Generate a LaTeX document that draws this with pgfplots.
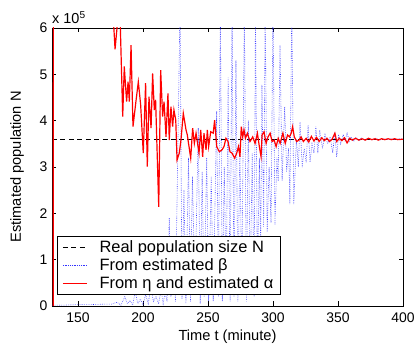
\documentclass[border=0pt]{standalone}
\usepackage{fontspec}
\setmainfont{Liberation Sans}
\usepackage{pgfplots}
\pgfplotsset{compat=1.18}
\begin{document}
\begin{tikzpicture}[font=\fontsize{14}{16.8}\selectfont]
\begin{axis}[
  scale only axis, width=351bp, height=278bp,
  xmin=130, xmax=400, ymin=0, ymax=6,
  xtick={150,200,250,300,350,400}, ytick={0,1,2,3,4,5,6},
  tick align=inside, major tick length=4.5bp,
  axis line style={line width=0.6pt}, every tick/.style={line width=0.5pt, black},
  /pgf/number format/assume math mode=true,
  tick label style={font=\fontsize{14}{16.8}\selectfont},
  xticklabel style={yshift=-3pt},
  yticklabel style={xshift=-1pt},
  label style={font=\fontsize{14.7}{17.5}\selectfont},
  xlabel={Time t (minute)}, ylabel={Estimated population N},
  xlabel style={yshift=-1pt}, ylabel style={yshift=9bp},
  legend style={at={(rel axis cs:0.014,0.04)}, anchor=south west, draw=black, line width=0.8pt,
    fill=white, font=\fontsize{16.5}{19.5}\selectfont, inner xsep=5pt, inner ysep=2pt, row sep=1pt},
  legend cell align=left,
  legend image code/.code={\draw[#1] (0.05cm,0cm) -- (0.9cm,0cm); \path (1.25cm,0cm);},
]
\addplot[black, line width=0.9pt, dash pattern=on 5pt off 3.5pt] coordinates {(130,3.6) (400,3.6)};
\addlegendentry{Real population size N}
\addplot[blue!80, line width=0.6pt, dash pattern=on 0.6pt off 1.2pt] coordinates {
(130,0.02) (140,0.02) (150,0.03) (160,0.03) (170,0.04) (176,0.04) (180,0.08) (183,0.02)
(186,0.2) (188,0.05) (190,0.12) (192,0.02) (194,0.3) (196,0.05) (198,0.15) (200,0.03)
(202,0.25) (204,0.05) (206,0.4) (208,0.1) (210,0.2) (212,0.05) (214,0.35) (215.5,0.05)
(217,0.3) (218.5,0.1) (220.2,1.9) (221.5,0.2) (223,0.8) (225,0.1) (228.5,6.5) (230,0.15)
(231.5,2.5) (233,0.05) (235,3.2) (236.5,0.1) (238,2.8) (240,0.3) (242.5,3.84) (244,0.05)
(245.5,2.9) (247,0.2) (249,3.2) (250.5,0.1) (252.5,2.8) (254,0.1) (256.7,4.2) (258,0.2)
(259.5,6.5) (261,0.1) (262.5,3.0) (264,0.3) (265.5,4.93) (267,0.1) (268.5,6.5) (270,0.2)
(271.5,5.3) (273,0.1) (274.5,3.5) (276,0.4) (278,6.5) (279.5,0.1) (281,4.0) (282.5,0.5)
(284,3.3) (285.5,0.2) (286.5,6.5) (288,0.5) (289.5,3.2) (290.5,1.2) (291.5,4.77) (292.8,1.7)
(294,6.5) (295.5,1.6) (297,3.0) (298.5,1.8) (300,6.5) (301.5,1.75) (303,3.2) (304,2.7)
(305.4,5.63) (307,2.7) (309,4.3) (310.5,2.9) (312,3.4) (313,2.2) (314.4,6.5) (316,2.2)
(318,3.6) (319.5,3.0) (320.8,3.97) (322.5,3.0) (324,3.4) (325.5,3.1) (327,3.9) (328.5,3.1)
(330,3.5) (331.5,3.3) (333,3.87) (334.5,3.3) (336,3.8) (338,3.4) (340,3.7) (342,3.5)
(344,3.65) (346,3.3) (347.5,3.75) (349,3.22) (350.5,3.7) (352,3.5) (354,3.7) (355.5,3.55)
(357,3.75) (358.5,3.55) (360,3.65) (362,3.55) (364,3.64) (366,3.57) (368,3.63) (370,3.58)
(373,3.62) (376,3.58) (379,3.62) (382,3.58) (385,3.61) (388,3.59) (391,3.61) (394,3.59)
(397,3.61) (400,3.6)};
\addlegendentry{From estimated β}
\addplot[red, line width=1.2pt] coordinates {
(131.0,-0.2) (131.3,40) (176.5,40) (177.2,6.2) (178.5,5.54) (181.0,6.3) (182.5,6.1)
(184.4,4.09) (185.6,5.17) (187.4,4.41) (188.5,4.84) (189.5,4.41) (190.8,5.63) (192.3,3.87)
(194.5,4.4) (196.4,4.84) (198.2,4.34) (200.2,3.30) (202.0,4.81) (203.3,3.01) (204.6,4.52)
(206.2,3.84) (207.4,5.02) (208.7,4.23) (209.7,4.45) (212.1,2.14) (213.6,5.09) (215.1,4.09)
(216.2,4.41) (217.7,3.65) (219.2,4.59) (220.2,3.58) (221.5,4.30) (222.8,3.87) (223.8,4.23)
(225.2,4.01) (226.2,3.15) (227.9,3.30) (229.2,3.58) (231.0,4.16) (233.1,3.80) (234.1,3.69)
(236.7,3.19) (238.2,3.84) (239.5,3.51) (240.8,3.73) (243.1,3.30) (244.4,3.80) (245.9,3.22)
(246.9,3.73) (248.5,3.37) (249.5,3.80) (250.5,3.44) (252.1,3.76) (254.0,3.73) (255.1,4.01)
(256.7,3.44) (258.7,3.33) (260.8,3.37) (262.3,3.44) (263.8,3.62) (265.4,3.55) (266.9,3.33)
(268.5,3.30) (270.5,3.19) (272.1,3.30) (273.4,3.44) (274.6,3.22) (275.6,3.87) (276.7,3.65)
(277.7,3.80) (278.8,3.62) (280.3,3.73) (282.3,3.55) (284.4,3.65) (286.2,3.51) (288.0,3.73)
(289.5,3.44) (290.8,3.22) (291.6,3.69) (293.1,3.76) (294.7,3.51) (296.2,3.65) (297.8,3.73)
(299.3,3.55) (300.9,3.58) (302.4,3.44) (304.0,3.62) (305.5,3.51) (307.6,3.73) (309.4,3.51)
(311.2,3.69) (312.7,3.65) (314.0,3.73) (315.1,3.87) (316.4,3.65) (318.2,3.55) (320.0,3.58)
(321.6,3.65) (323.4,3.55) (325.5,3.62) (327.5,3.54) (329.5,3.66) (331.5,3.56) (333.5,3.64)
(335.5,3.55) (337.5,3.63) (339.5,3.57) (341.5,3.62) (343.5,3.55) (345.5,3.60) (347.6,3.73)
(349.0,3.55) (351.0,3.62) (353.0,3.57) (355.0,3.63) (357.0,3.52) (359.0,3.62) (361.0,3.58)
(363.5,3.62) (366.0,3.58) (368.5,3.61) (371.0,3.58) (373.5,3.62) (376.0,3.59) (378.5,3.61)
(381.0,3.58) (383.5,3.61) (386.0,3.59) (388.5,3.61) (391.0,3.59) (393.5,3.61) (396.0,3.59)
(400.0,3.60)};
\addlegendentry{From η and estimated α}
\coordinate (ll) at (rel axis cs:0,0);
\coordinate (ur) at (rel axis cs:1,1);
\end{axis}
\node[anchor=base west, inner sep=0pt, font=\fontsize{14.5}{17}\selectfont] at ([yshift=4bp]ur -| ll) {x 10\textsuperscript{5}};
\pgfresetboundingbox
\path ([xshift=-52bp,yshift=-38bp]ll) rectangle ([xshift=12bp,yshift=28bp]ur);
\end{tikzpicture}
\end{document}
